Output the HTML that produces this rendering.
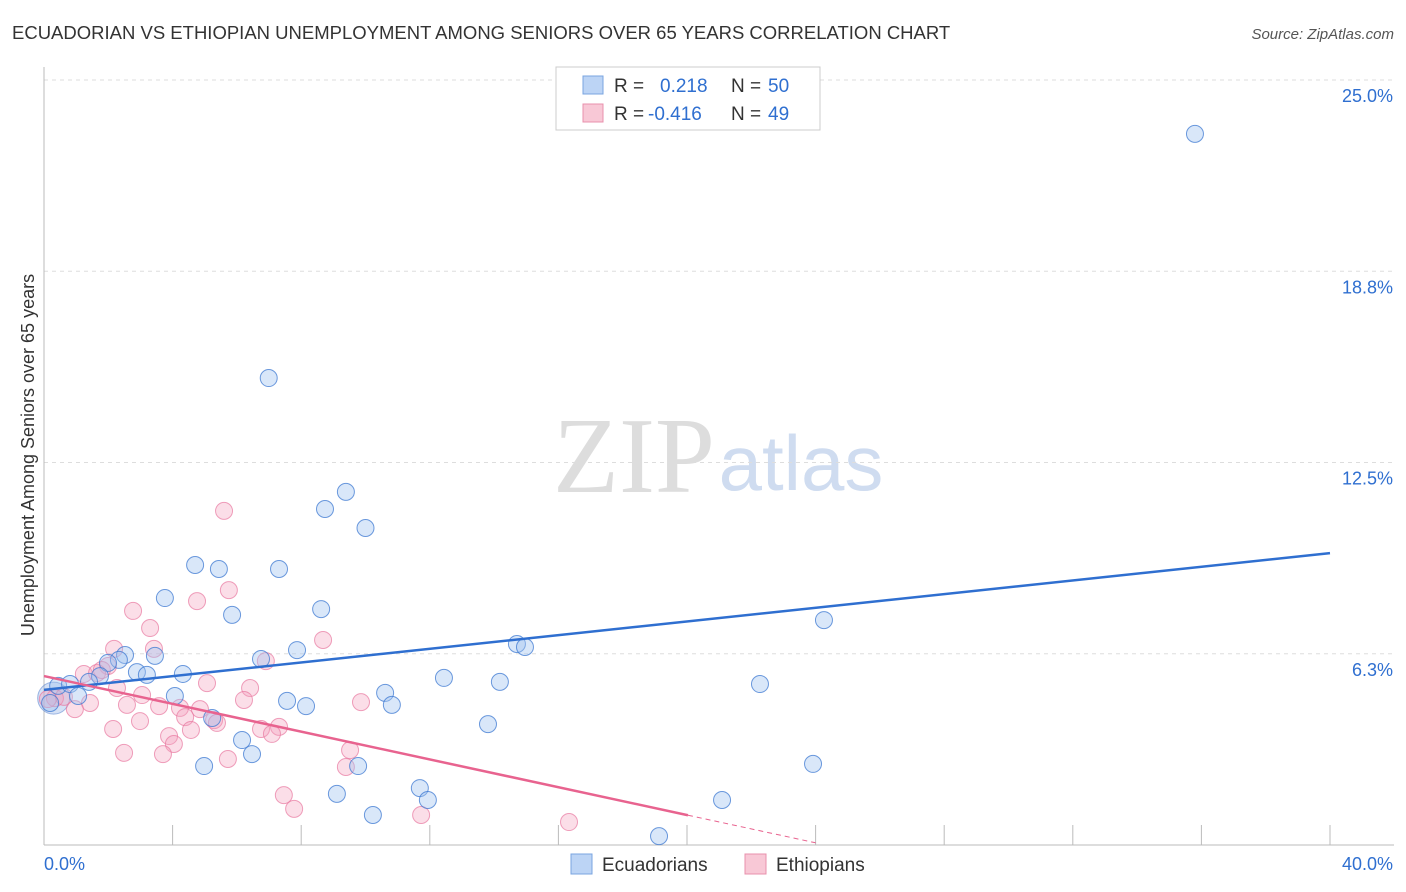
<!DOCTYPE html>
<html><head><meta charset="utf-8"><style>
body{margin:0;background:#fff;font-family:"Liberation Sans",sans-serif;}
svg{display:block}
</style></head><body>
<svg id="c" width="1406" height="892">
<text x="12" y="39" font-size="18.5" fill="#333">ECUADORIAN VS ETHIOPIAN UNEMPLOYMENT AMONG SENIORS OVER 65 YEARS CORRELATION CHART</text>
<text x="1394" y="39" font-size="15" fill="#555" text-anchor="end" font-style="italic">Source: ZipAtlas.com</text>
<text transform="translate(34,455) rotate(-90)" font-size="18" fill="#333" text-anchor="middle">Unemployment Among Seniors over 65 years</text>
<g id="wm"><text x="634" y="492" font-size="108" fill="#ddd" font-family="Liberation Serif,serif" text-anchor="middle">ZIP</text><text x="801" y="490" font-size="78" fill="#cfdcf0" text-anchor="middle">atlas</text></g>
<g id="grid"></g><g id="marks"></g>
<g>
<rect x="556" y="67" width="264" height="63" fill="#fff" stroke="#ccc"/>
<rect x="583" y="76" width="20" height="18" fill="#bcd4f5" stroke="#7aa4e0"/>
<text x="614" y="92" font-size="19" fill="#333">R = </text><text x="660" y="92" font-size="19" fill="#2f6fd0">0.218</text>
<text x="731" y="92" font-size="19" fill="#333">N = </text><text x="768" y="92" font-size="19" fill="#2f6fd0">50</text>
<rect x="583" y="104" width="20" height="18" fill="#f8c8d6" stroke="#e890ac"/>
<text x="614" y="120" font-size="19" fill="#333">R = </text><text x="648" y="120" font-size="19" fill="#2f6fd0">-0.416</text>
<text x="731" y="120" font-size="19" fill="#333">N = </text><text x="768" y="120" font-size="19" fill="#2f6fd0">49</text>
</g>
<g>
<rect x="571" y="854" width="21" height="20" fill="#bcd4f5" stroke="#7aa4e0"/>
<text x="602" y="871" font-size="19" fill="#333">Ecuadorians</text>
<rect x="745" y="854" width="21" height="20" fill="#f8c8d6" stroke="#e890ac"/>
<text x="776" y="871" font-size="19" fill="#333">Ethiopians</text>
</g>
</svg>
<script>
const yTicks=[6.25,12.5,18.75,25];
const yTickLabels=["6.3%","12.5%","18.8%","25.0%"];
const xTicks=[0,4,8,12,16,20,24,28,32,36,40];
const blueX=[35.8,6.99,9.39,8.74,10.0,4.7,5.44,7.31,3.76,5.85,8.62,24.26,14.71,14.96,7.87,2.52,3.45,2.33,1.99,6.75,2.89,4.32,3.2,1.74,12.44,14.18,1.4,22.27,0.44,0.81,10.61,4.07,1.06,7.56,8.15,10.82,0.19,5.23,13.81,6.16,6.47,4.98,9.77,23.92,11.69,9.11,11.94,21.09,10.23,19.13];
const blueY=[23.24,15.26,11.54,10.98,10.36,9.15,9.02,9.02,8.07,7.52,7.71,7.35,6.57,6.47,6.37,6.21,6.18,6.05,5.95,6.08,5.65,5.59,5.56,5.52,5.46,5.33,5.33,5.26,5.2,5.26,4.97,4.87,4.87,4.71,4.54,4.58,4.64,4.15,3.95,3.43,2.97,2.58,2.58,2.65,1.86,1.67,1.47,1.47,0.98,0.29];
const pinkX=[5.6,2.77,4.76,3.3,3.42,8.68,6.9,1.99,1.24,1.65,2.27,5.07,6.41,3.05,6.22,9.86,0.34,0.62,1.43,2.58,3.58,4.23,4.85,0.96,4.39,5.29,5.38,2.986,4.57,2.15,6.75,7.31,7.09,3.89,4.04,9.52,2.49,3.7,5.72,9.39,7.46,7.78,11.73,16.33,0.12,1.8,5.75,2.18];
const pinkY=[10.92,7.65,7.97,7.09,6.41,6.7,6.01,5.85,5.59,5.62,5.13,5.29,5.13,4.9,4.74,4.67,4.8,4.84,4.64,4.58,4.54,4.48,4.44,4.44,4.18,4.08,3.99,4.05,3.76,3.79,3.79,3.86,3.63,3.56,3.3,3.1,3.01,2.97,2.81,2.55,1.63,1.18,0.98,0.75,4.77,5.72,8.33,6.41];
const blueTrend=[5.07,9.54];
const pinkTrend=[5.52,-0.227];
const X0=44,X1=1330,Y0=845,PPY=30.6;
const sx=v=>X0+(X1-X0)*v/40, sy=v=>Y0-v*PPY;
const NS="http://www.w3.org/2000/svg";
function mk(t,a,p){const e=document.createElementNS(NS,t);for(const k in a)e.setAttribute(k,a[k]);p.appendChild(e);return e;}
const g=document.getElementById('grid'),m=document.getElementById('marks');
yTicks.forEach((t,i)=>{
 const l=mk('line',{x1:X0,x2:1394,y1:sy(t),y2:sy(t),stroke:'#ddd','stroke-dasharray':'4,4'},g);
 
 
 const tx=mk('text',{x:1393,y:sy(t)+22,'font-size':18,fill:'#2f6fd0','text-anchor':'end'},g);tx.textContent=yTickLabels[i];
 
 
});
mk('line',{x1:X0,x2:X0,y1:67,y2:Y0,stroke:'#bbb'},g);
mk('line',{x1:X0,x2:1394,y1:Y0,y2:Y0,stroke:'#bbb'},g);
xTicks.forEach(t=>{const l=mk('line',{x1:sx(t),x2:sx(t),y1:825,y2:Y0,stroke:'#bbb'},g);
 
 });
const a=mk('text',{x:44,y:870,'font-size':18,fill:'#2f6fd0'},g);a.textContent='0.0%';


const b=mk('text',{x:1393,y:870,'font-size':18,fill:'#2f6fd0','text-anchor':'end'},g);b.textContent='40.0%';


mk('circle',{cx:sx(0.3),cy:sy(4.8),r:16,fill:'rgba(150,180,230,0.4)',stroke:'rgba(100,140,210,0.6)'},m);
pinkX.forEach((x,i)=>{const c=mk('circle',{cx:sx(x),cy:sy(pinkY[i]),r:8.5,fill:'rgba(244,160,190,0.35)',stroke:'rgba(232,120,160,0.7)','stroke-width':1},m);
 
 });
blueX.forEach((x,i)=>{const c=mk('circle',{cx:sx(x),cy:sy(blueY[i]),r:8.5,fill:'rgba(160,195,240,0.4)',stroke:'rgba(60,120,210,0.75)','stroke-width':1},m);
 
 });
const bl=mk('line',{x1:sx(0),y1:sy(blueTrend[0]),x2:sx(40),y2:sy(blueTrend[1]),stroke:'#2f6fd0','stroke-width':2.5},m);


const pe=20.03;
const pl=mk('line',{x1:sx(0),y1:sy(pinkTrend[0]),x2:sx(pe),y2:sy(pinkTrend[0]+pinkTrend[1]*pe),stroke:'#e8638f','stroke-width':2.5},m);


const pd=mk('line',{x1:sx(pe),y1:sy(pinkTrend[0]+pinkTrend[1]*pe),x2:sx(24),y2:sy(pinkTrend[0]+pinkTrend[1]*24),stroke:'#e8638f','stroke-width':1,'stroke-dasharray':'5,4'},m);


</script>
</body></html>
